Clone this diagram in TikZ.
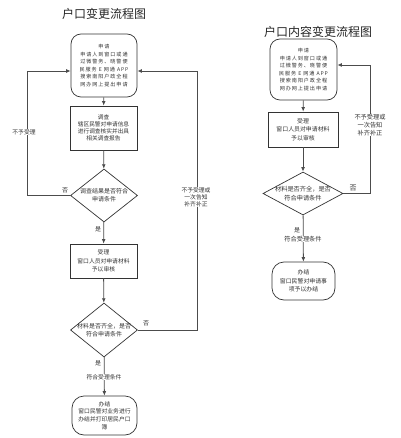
\documentclass[tikz,border=0pt]{standalone}
\usepackage{fontspec}
\newfontfamily\cjk{Noto Sans CJK SC}
\newfontfamily\cjkwide[LetterSpace=18]{Noto Sans CJK SC}
\usetikzlibrary{shapes.geometric,arrows.meta}
\tikzset{
  line/.style={draw=black!70, line width=0.8pt},
  arr/.style={line, -{Latex[length=4.5pt,width=3.8pt]}},
  box/.style={draw=black!80, line width=0.7pt, inner sep=0pt, align=center, text=black!80,
    font=\cjk\fontsize{5.7}{7.2}\selectfont},
  rboxtxt/.style={font=\cjk\fontsize{5.9}{8.6}\selectfont},
  rbox/.style={box, rounded corners=10pt},
  wbox/.style={rbox, font=\cjkwide\fontsize{5.1}{7.5}\selectfont},
  dia/.style={draw=black!80, line width=0.7pt, diamond, inner sep=0pt},
  dtext/.style={align=center, inner sep=0pt, text=black!80, font=\cjk\fontsize{6}{7.8}\selectfont},
  lab/.style={font=\cjk\fontsize{6}{6.6}\selectfont, text=black!80, inner sep=0.6pt},
  wlab/.style={lab, fill=white, align=center, font=\cjk\fontsize{5.8}{6.8}\selectfont},
  ttl/.style={font=\cjk\fontsize{12}{14}\selectfont, text=black!85, inner sep=0pt},
}
\begin{document}
\begin{tikzpicture}[x=1pt,y=-1pt]
\useasboundingbox[fill=white] (0,0) rectangle (400,438);
% ---------------- left chart ----------------
\node[ttl] (tl) at (104,14) {户口变更流程图};
\node[wbox, minimum width=66pt, minimum height=63pt] (a1) at (104,65.5)
  {申请\\申请人到窗口或通\\过微警务、晓警便\\民服务 E 网通 APP\\搜索南阳户政全程\\网办网上提出申请};
\node[box, minimum width=67pt, minimum height=44pt] (a2) at (103.5,128)
  {调查\\辖区民警对申请信息\\进行调查核实并出具\\相关调查报告};
\node[dia, minimum width=67pt, minimum height=53pt] (d1) at (104,195.5) {};
\node[dtext] (d1t) at (d1) {调查结果是否符合\\申请条件};
\node[box, minimum width=67pt, minimum height=34pt, font=\cjk\fontsize{5.8}{8.5}\selectfont] (a3) at (103.5,261)
  {受理\\窗口人员对申请材料\\予以审核};
\node[dia, minimum width=67pt, minimum height=54pt] (d2) at (104,330) {};
\node[dtext] (d2t) at (d2) {材料是否齐全，是否\\符合申请条件};
\node[box, rounded corners=12pt, minimum width=65pt, minimum height=39pt, font=\cjk\fontsize{5.8}{7.8}\selectfont] (a4) at (104.5,415.5)
  {办结\\窗口民警对业务进行\\办结并打印居民户口\\簿};
\coordinate (lc) at (27,71);
\coordinate (rc) at (197,71);
\draw[arr] (a1) -- (a2);
\draw[arr] (a2) -- (d1);
\draw[arr] (d1) -- (a3);
\draw[arr] (a3) -- (d2);
\draw[arr] (d2) -- (a4);
\draw[arr] (d1.west) -| (lc) -- (lc -| a1.west);
\draw[arr] (d2.east) -| (rc) -- (rc -| a1.east);
\node[lab] (n1) at (65,190) {否};
\node[wlab] (n2) at (24,132) {不予受理};
\node[lab] (y1) at (98,229) {是};
\node[lab] (n3) at (146,323) {否};
\node[wlab] (n4) at (196,197) {不予受理或\\一次告知\\补齐补正};
\node[lab] (y2) at (98,363) {是};
\node[wlab] (c1) at (104,377) {符合受理条件};
% ---------------- right chart ----------------
\node[ttl] (tr) at (318,32) {户口内容变更流程图};
\node[wbox, minimum width=67pt, minimum height=61pt] (b1) at (303.5,69.5)
  {申请\\申请人到窗口或通\\过微警务、晓警便\\民服务 E 网通 APP\\搜索南阳户政全程\\网办网上提出申请};
\node[box, rboxtxt, minimum width=70pt, minimum height=35pt] (b2) at (303,129.5)
  {受理\\窗口人员对申请材料\\予以审核};
\node[dia, minimum width=80pt, minimum height=43pt] (e1) at (303,193.5) {};
\node[dtext, font=\cjk\fontsize{6.2}{8.4}\selectfont] (e1t) at (e1) {材料是否齐全，是否\\符合申请条件};
\node[box, rboxtxt, rounded corners=12pt, minimum width=63pt, minimum height=38pt] (b3) at (303.5,281)
  {办结\\窗口民警对申请事\\项予以办结};
\coordinate (rr) at (370,65);
\draw[arr] (b1) -- (b2);
\draw[arr] (b2) -- (e1);
\draw[arr] (e1) -- (b3);
\draw[arr] (e1.east) -| (rr) -- (rr -| b1.east);
\node[lab, font=\cjk\fontsize{7}{8}\selectfont] (m1) at (353,188) {否};
\node[wlab, font=\cjk\fontsize{6.2}{7.8}\selectfont] (m2) at (370,125) {不予受理或\\一次告知\\补齐补正};
\node[lab] (z1) at (297,230) {是};
\node[wlab, font=\cjk\fontsize{6.2}{7}\selectfont] (c2) at (303,239) {符合受理条件};
\end{tikzpicture}
\end{document}
